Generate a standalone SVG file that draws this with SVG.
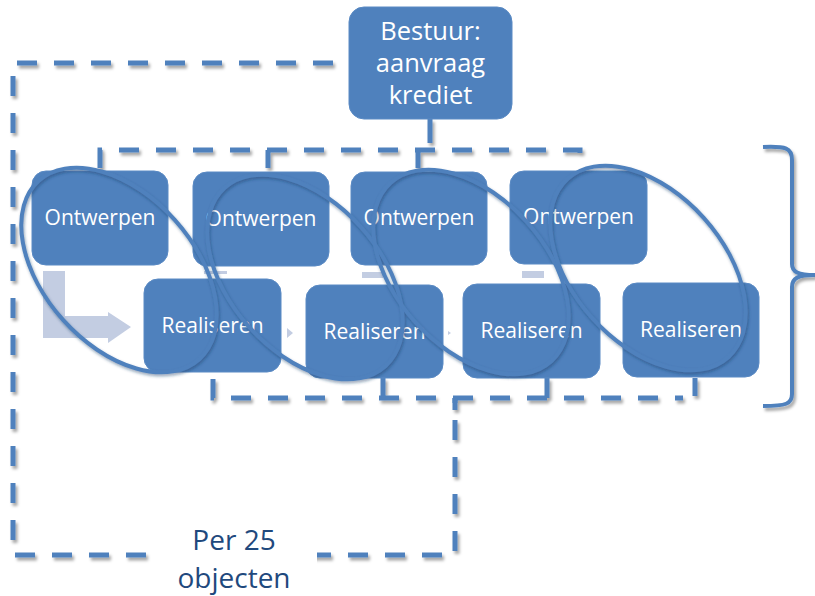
<svg xmlns="http://www.w3.org/2000/svg" width="815" height="596" viewBox="0 0 815 596">
<style>
.box{fill:#4f81bd;stroke:#5a8ac4;stroke-width:1}
.t{font-family:"Open Sans","Liberation Sans",sans-serif;fill:#ffffff;text-anchor:middle}
.tn{font-size:21px}
.tb{font-size:25.5px}
.dash{fill:none;stroke:#4f81bd;stroke-width:5;stroke-dasharray:20 17}
.solid{fill:none;stroke:#4f81bd;stroke-width:5}
.light{fill:#c3cde2}
.ell{fill:none;stroke:#4f81bd;stroke-width:4}
.lbl{font-family:"Open Sans","Liberation Sans",sans-serif;fill:#1f497d;font-size:28px;text-anchor:middle}
</style>
<defs>
<filter id="sh" x="-10%" y="-10%" width="120%" height="130%">
<feDropShadow dx="2" dy="3" stdDeviation="1.5" flood-color="#000000" flood-opacity="0.35"/>
</filter>
<filter id="esh" x="-20%" y="-20%" width="140%" height="140%">
<feDropShadow dx="1" dy="2" stdDeviation="1.5" flood-color="#1a3a66" flood-opacity="0.45"/>
</filter>
</defs>
<rect width="815" height="596" fill="#ffffff"/>

<g id="connectors" filter="url(#sh)">
<path class="dash" d="M333,63 H13 V555 H455 V398"/>
<path class="solid" d="M430,119 V143"/>
<path class="dash" d="M100,168 V150 H580 V168"/>
<path class="solid" d="M268,150 V168 M418,150 V168"/>
<path class="dash" d="M213,379 V398 H683"/>
<path class="solid" d="M383,378 V398 M547,378 V398 M695,378 V396 M455,398 V410"/>
</g>

<g id="flow-arrows">
<polygon class="light" points="43,271 65,271 65,316 108,316 108,312 131,327 108,343 108,338 43,338"/>
<rect class="light" x="204" y="271" width="23" height="3"/>
<rect class="light" x="362" y="272" width="21" height="6"/>
<rect class="light" x="522" y="271" width="22" height="7"/>
<polygon class="light" points="287,328 293,333 287,338"/>
<polygon class="light" points="448,331 451,333 448,335"/>
</g>

<g id="bestuur">
<rect class="box" x="349" y="7" width="163" height="112" rx="15"/>
<text class="t tb" x="430.5" y="40">Bestuur:</text>
<text class="t tb" x="430.5" y="72">aanvraag</text>
<text class="t tb" x="430.5" y="104">krediet</text>
</g>

<g id="ontwerpen1"><rect class="box" x="32" y="171" width="136" height="94" rx="14"/><text class="t tn" x="100" y="225">Ontwerpen</text></g>
<g id="ontwerpen2"><rect class="box" x="193" y="172" width="136" height="94" rx="14"/><text class="t tn" x="261" y="226">Ontwerpen</text></g>
<g id="ontwerpen3"><rect class="box" x="351" y="172" width="136" height="93" rx="14"/><text class="t tn" x="419" y="225">Ontwerpen</text></g>
<g id="ontwerpen4"><rect class="box" x="510" y="171" width="137" height="93" rx="14"/><text class="t tn" x="578.5" y="224">Ontwerpen</text></g>

<g id="realiseren1"><rect class="box" x="144" y="279" width="137" height="93" rx="14"/><text class="t tn" x="212.5" y="333">Realiseren</text></g>
<g id="realiseren2"><rect class="box" x="306" y="285" width="137" height="93" rx="14"/><text class="t tn" x="374.5" y="339">Realiseren</text></g>
<g id="realiseren3"><rect class="box" x="463" y="284" width="137" height="94" rx="14"/><text class="t tn" x="531.5" y="338">Realiseren</text></g>
<g id="realiseren4"><rect class="box" x="623" y="283" width="136" height="94" rx="14"/><text class="t tn" x="691" y="337">Realiseren</text></g>

<g id="cycles" filter="url(#esh)">
<ellipse class="ell" cx="119" cy="270" rx="120" ry="75" transform="rotate(48 119 270)"/>
<ellipse class="ell" cx="305" cy="277" rx="120" ry="75" transform="rotate(48 305 277)"/>
<ellipse class="ell" cx="471" cy="272" rx="120" ry="75" transform="rotate(48 471 272)"/>
<ellipse class="ell" cx="648" cy="268" rx="120" ry="75" transform="rotate(48 648 268)"/>
</g>

<g id="brace" filter="url(#sh)">
<path fill="none" stroke="#4f81bd" stroke-width="4" d="M763,147 C786,146 792,148 792,160 L792,264 C792,272 798,275 815,275 M815,275 C798,275 792,278 792,287 L792,394 C792,404 786,406 763,406"/>
</g>

<g id="label-per25">
<rect x="151" y="520" width="166" height="76" fill="#ffffff"/>
<text class="lbl" x="234" y="550">Per 25</text>
<text class="lbl" x="234" y="588">objecten</text>
</g>
</svg>
